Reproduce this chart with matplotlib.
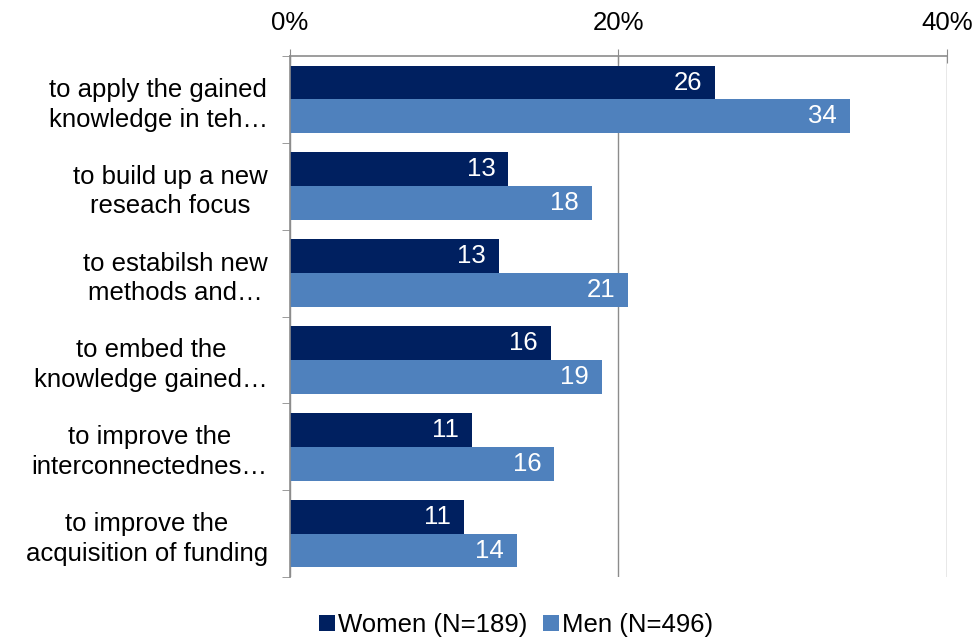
import matplotlib
matplotlib.use("Agg")
import matplotlib.pyplot as plt
import numpy as np

categories = [
    "to apply the gained\nknowledge in teh\u2026",
    "to build up a new\nreseach focus",
    "to estabilsh new\nmethods and\u2026",
    "to embed the\nknowledge gained\u2026",
    "to improve the\ninterconnectednes\u2026",
    "to improve the\nacquisition of funding",
]
women = [25.9, 13.3, 12.7, 15.9, 11.1, 10.6]
men = [34.1, 18.4, 20.6, 19.0, 16.1, 13.8]
series_names = ["Women (N=189)", "Men (N=496)"]
xticks = [0, 20, 40]
xticklabels = ["0%", "20%", "40%"]

plt.rcParams['font.family'] = ['Liberation Sans', 'DejaVu Sans']
FS = 18.5

c_women = "#002060"
c_men = "#4F81BD"
grey = "#8C8C8C"

fig = plt.figure(figsize=(9.78, 6.41), dpi=100)
ax = fig.add_axes([0.2965, 0.0998, 0.6718, 0.8128])

y = np.arange(len(categories))
h = 0.39
bw = ax.barh(y - h / 2, women, height=h, color=c_women, label=series_names[0])
bm = ax.barh(y + h / 2, men, height=h, color=c_men, label=series_names[1])

for bars, vals in ((bw, women), (bm, men)):
    for b, v in zip(bars, vals):
        ax.text(b.get_width() - 0.8, b.get_y() + b.get_height() / 2, f"{round(v)}",
                ha="right", va="center", color="white", fontsize=FS)

ax.set_xlim(0, 40)
ax.set_ylim(len(categories) - 0.5, -0.5)
ax.xaxis.tick_top()
ax.set_xticks(xticks)
ax.set_xticklabels(xticklabels, fontsize=FS)
ax.tick_params(axis="x", direction="inout", length=10, color=grey, pad=10)
ax.grid(axis="x", color=grey, linewidth=1)
ax.set_axisbelow(True)

ax.set_yticks(y)
ax.set_yticklabels(categories, fontsize=FS, multialignment="center", linespacing=1.3)
ax.set_yticks(np.arange(len(categories) + 1) - 0.5, minor=True)
ax.tick_params(axis="y", which="major", length=0, pad=16)
ax.tick_params(axis="y", which="minor", length=6, color=grey, direction="out")

for s in ["right", "bottom"]:
    ax.spines[s].set_visible(False)
for s in ["left", "top"]:
    ax.spines[s].set_color(grey)
    ax.spines[s].set_linewidth(1.2)

fig.legend(handles=[bw, bm], labels=series_names, loc="center", bbox_to_anchor=(0.528, 0.025),
           ncol=2, frameon=False, fontsize=FS, handlelength=0.6, handleheight=0.6,
           handletextpad=0.15, columnspacing=0.6)

fig.savefig("out.png", dpi=100)
